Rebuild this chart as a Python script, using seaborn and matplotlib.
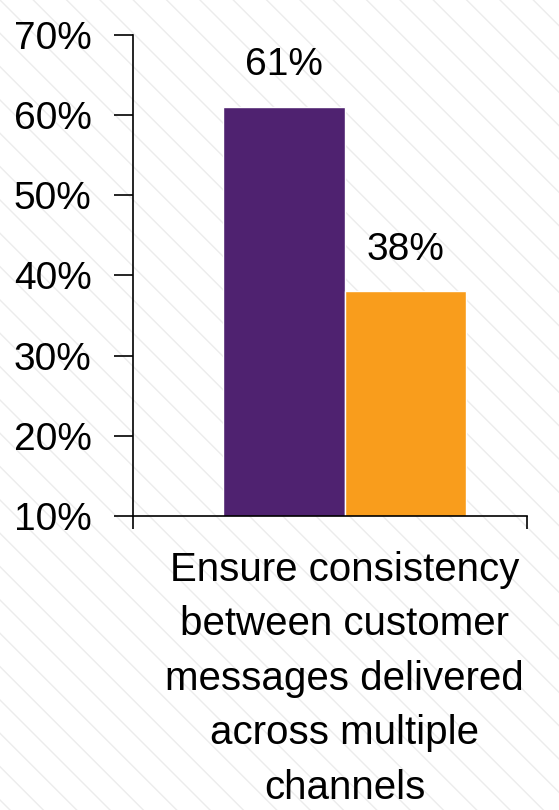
import pandas as pd
import matplotlib.pyplot as plt
import seaborn as sns
from matplotlib.patches import Rectangle

# data
category = "Ensure consistency\nbetween customer\nmessages delivered\nacross multiple\nchannels"
groups = ["Group A", "Group B"]
values = [61, 38]
colors = ["#4F2270", "#F99D1C"]
y_ticks = [10, 20, 30, 40, 50, 60, 70]

df = pd.DataFrame({"category": [category] * len(groups), "group": groups, "value": values})

sns.set_style("white")
plt.rcParams["font.family"] = ["Liberation Sans", "DejaVu Sans"]
plt.rcParams["hatch.linewidth"] = 1.0
plt.rcParams["text.color"] = "black"
plt.rcParams["xtick.color"] = "black"
plt.rcParams["ytick.color"] = "black"

fig = plt.figure(figsize=(5.59, 8.10), dpi=100)

# faint diagonal stripes behind everything
bg = Rectangle((0, 0), 1, 1, transform=fig.transFigure, facecolor="white",
               edgecolor="#ececec", hatch="\\", linewidth=0, zorder=-10)
fig.patches.append(bg)

ax = fig.add_axes([0.238, 0.363, 0.705, 0.594])
ax.patch.set_alpha(0)

sns.barplot(data=df, x="category", y="value", hue="group", palette=colors,
            width=0.8, legend=False, saturation=1, ax=ax)

ax.set_ylim(10, 70)
ax.set_xlim(-0.696, 0.601)
ax.set_yticks(y_ticks)
ax.set_yticklabels([f"{t}%" for t in y_ticks], fontsize=28)
ax.tick_params(axis="y", left=True, direction="out", length=14, width=1.2, pad=16,
               color="black", labelcolor="black")
ax.tick_params(axis="x", bottom=True, length=0, pad=25, labelsize=29, labelcolor="black")
ax.set_xticks([0])
ax.set_xticklabels([category], linespacing=1.55)

# tick marks at the category boundaries
ax.set_xticks([-0.696, 0.601], minor=True)
ax.tick_params(axis="x", which="minor", bottom=True, direction="out", length=9, width=1.2, color="black")

ax.set_xlabel("")
ax.set_ylabel("")

for side in ["top", "right"]:
    ax.spines[side].set_visible(False)
for side in ["left", "bottom"]:
    ax.spines[side].set_color("black")
    ax.spines[side].set_linewidth(1.2)

for container in ax.containers:
    ax.bar_label(container, fmt="%d%%", padding=17, fontsize=28, color="black")

fig.savefig("out.png", dpi=100)
